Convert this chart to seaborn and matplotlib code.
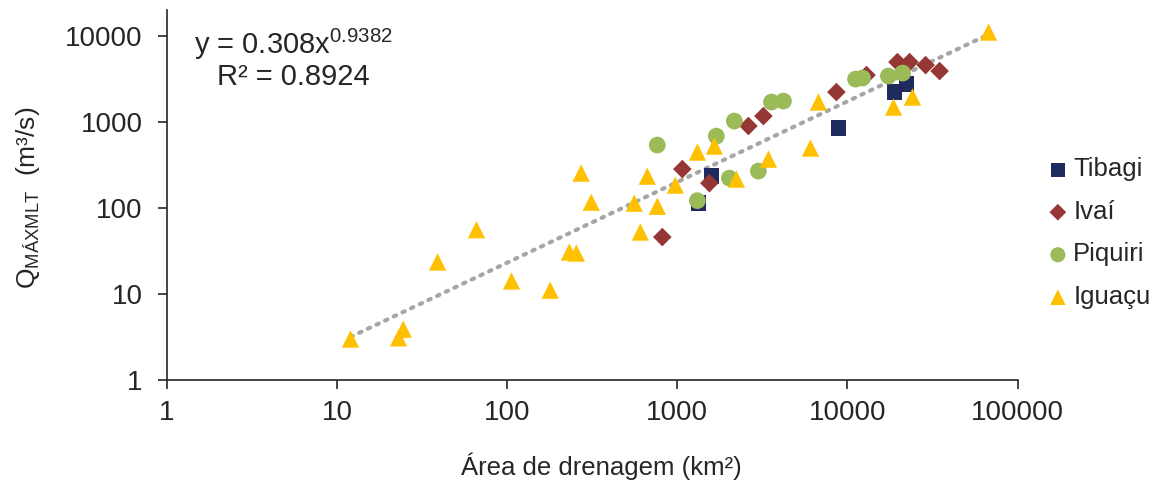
import numpy as np
import pandas as pd
import seaborn as sns
import matplotlib.pyplot as plt

sns.set_style('white')
plt.rcParams['font.family'] = ['Liberation Sans', 'DejaVu Sans']

# áreas de drenagem (km²) e vazões (m³/s) por bacia
tibagi_area = [1330, 1585, 8850, 18900, 22200]
tibagi_q = [114, 235, 851, 2233, 2770]

ivai_area = [816, 1070, 1543, 2617, 3205, 8610, 12940, 19670, 23170, 28790, 34780]
ivai_q = [46, 284, 195, 901, 1175, 2233, 3520, 4985, 4985, 4600, 3920]

piquiri_area = [762, 1312, 1695, 2023, 2163, 2994, 3575, 4205, 11150, 12250, 17400, 21100]
piquiri_q = [540, 122, 687, 223, 1028, 269, 1710, 1755, 3160, 3250, 3430, 3715]

iguacu_area = [12, 23, 24.5, 39, 66, 106, 179, 232, 255, 272, 312, 558, 606,
               666, 763, 973, 1312, 1651, 2224, 3430, 6060, 6750, 18650, 24100, 67500]
iguacu_q = [3.0, 3.1, 3.9, 23.6, 56, 14.2, 11.1, 30.8, 30.0, 255, 117, 114, 52.6,
            235, 105, 185, 448, 526, 217, 371, 499, 1710, 1494, 1954, 11130]

# ajuste potência mostrado no gráfico
coef_a = 0.308
coef_b = 0.9382

series = [
    ('Tibagi', tibagi_area, tibagi_q, 's', '#1F2A5E', 125),
    ('Ivaí', ivai_area, ivai_q, 'D', '#953735', 90),
    ('Piquiri', piquiri_area, piquiri_q, 'o', '#9BBB59', 145),
    ('Iguaçu', iguacu_area, iguacu_q, '^', '#FFC000', 155),
]

linhas = []
for nome, area, q, _, _, _ in series:
    linhas.append(pd.DataFrame({'rio': nome, 'area': area, 'q': q}))
datos = pd.concat(linhas, ignore_index=True)

fig, ax = plt.subplots(figsize=(11.67, 4.86), dpi=100)
fig.subplots_adjust(left=0.143, right=0.872, bottom=0.218, top=0.979)

# linha de tendência
xs = np.array([datos['area'].min(), datos['area'].max()])
ax.plot(xs, coef_a * xs ** coef_b, color='#A6A6A6', lw=3,
        linestyle=(0, (0.6, 1.7)), dash_capstyle='round', zorder=1)

for nome, area, q, mk, cor, tam in series:
    sub = datos[datos['rio'] == nome]
    sns.scatterplot(data=sub, x='area', y='q', marker=mk, color=cor, s=tam,
                    edgecolor='none', label=nome, ax=ax, zorder=3)

ax.set_xscale('log')
ax.set_yscale('log')
ax.set_xlim(1, 100000)
ax.set_ylim(1, 20000)
ax.set_xticks([1, 10, 100, 1000, 10000, 100000])
ax.set_xticklabels(['1', '10', '100', '1000', '10000', '100000'])
ax.set_yticks([1, 10, 100, 1000, 10000])
ax.set_yticklabels(['1', '10', '100', '1000', '10000'])
ax.minorticks_off()

for lado in ['top', 'right']:
    ax.spines[lado].set_visible(False)
for lado in ['left', 'bottom']:
    ax.spines[lado].set_color('#262626')
    ax.spines[lado].set_linewidth(1.2)

ax.tick_params(axis='both', which='major', direction='out', length=6.5, width=1.2,
               color='#262626', labelsize=20, labelcolor='#262626')
ax.tick_params(axis='y', pad=11, left=True)
ax.tick_params(axis='x', pad=8, bottom=True)

ax.set_xlabel('')
ax.set_ylabel('')
fig.text(601 / 1167, 1 - 466 / 486, 'Área de drenagem (km²)', fontsize=18.5,
         color='#262626', ha='center', va='center')
fig.text(28 / 1167, 1 - 198 / 486, r'Q$_{\mathregular{MÁXMLT}}$  (m³/s)', fontsize=19,
         color='#262626', ha='center', va='center', rotation=90)

fig.text(194 / 1167, 1 - 44 / 486, r'y = 0.308x$^{\mathregular{0.9382}}$', fontsize=21,
         color='#262626', ha='left', va='center')
fig.text(217 / 1167, 1 - 77 / 486, 'R² = 0.8924', fontsize=21,
         color='#262626', ha='left', va='center')

leg = ax.legend(loc='center left', bbox_to_anchor=(1.005, 0.397), frameon=False,
                fontsize=18.5, handletextpad=0.1, labelspacing=0.72,
                handlelength=1.0, markerscale=0.9)
for t in leg.get_texts():
    t.set_color('#262626')

fig.savefig('out.png', dpi=100)
